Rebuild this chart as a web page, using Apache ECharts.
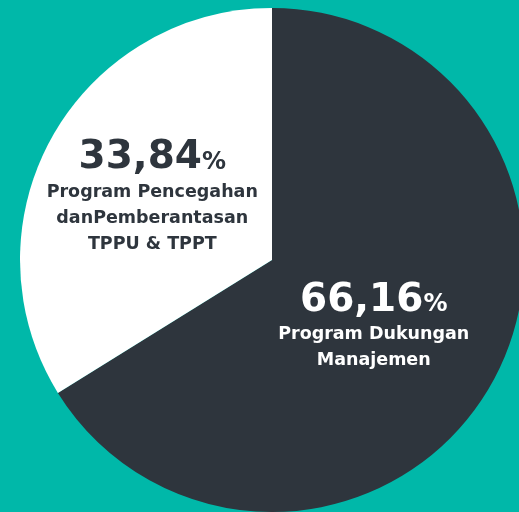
<!DOCTYPE html>
<html>
<head>
<meta charset="utf-8">
<script src="https://cdn.jsdelivr.net/npm/echarts@6/dist/echarts.min.js"></script>
<style>
  html, body { margin: 0; padding: 0; background: #00b8a9; }
  #chart { width: 519px; height: 512px; }
</style>
</head>
<body>
<div id="chart"></div>
<script>
// data
var categories = ["Program Dukungan\nManajemen", "Program Pencegahan\ndanPemberantasan\nTPPU & TPPT"];
var values = [66.16, 33.84];

var sliceColors = ["#2e353d", "#ffffff"];
var textColors = ["#ffffff", "#2e353d"];
var labelShift = [[-11, 4], [-7, 0]];

var fnt = "DejaVu Sans";

var pieData = categories.map(function (name, i) {
    var lbl = name.split("\n").map(function (l) { return "{t|" + l + "}"; }).join("\n");
    return {
        name: name,
        value: values[i],
        itemStyle: { color: sliceColors[i] },
        label: {
            formatter: "{p|" + values[i].toFixed(2).replace(".", ",") + "}{s|%}\n" + lbl,
            color: textColors[i],
            offset: labelShift[i],
            rich: {
                p: { fontSize: 39, fontWeight: "bold", color: textColors[i], fontFamily: fnt, lineHeight: 42 },
                s: { fontSize: 24, fontWeight: "bold", color: textColors[i], fontFamily: fnt, lineHeight: 42, verticalAlign: "bottom", padding: [0, 0, 5, 0] },
                t: { fontSize: 17.5, fontWeight: "bold", color: textColors[i], fontFamily: fnt, lineHeight: 26 }
            }
        }
    };
});

var myChart = echarts.init(document.getElementById("chart"));
var option = {
    backgroundColor: "#00b8a9",
    animation: false,
    series: [{
        type: "pie",
        center: [272, 260],
        radius: 252,
        startAngle: 90,
        clockwise: true,
        silent: true,
        label: { show: true, position: "inside", align: "center" },
        labelLine: { show: false },
        itemStyle: { borderWidth: 0 },
        data: pieData
    }]
};
myChart.setOption(option);
</script>
</body>
</html>
